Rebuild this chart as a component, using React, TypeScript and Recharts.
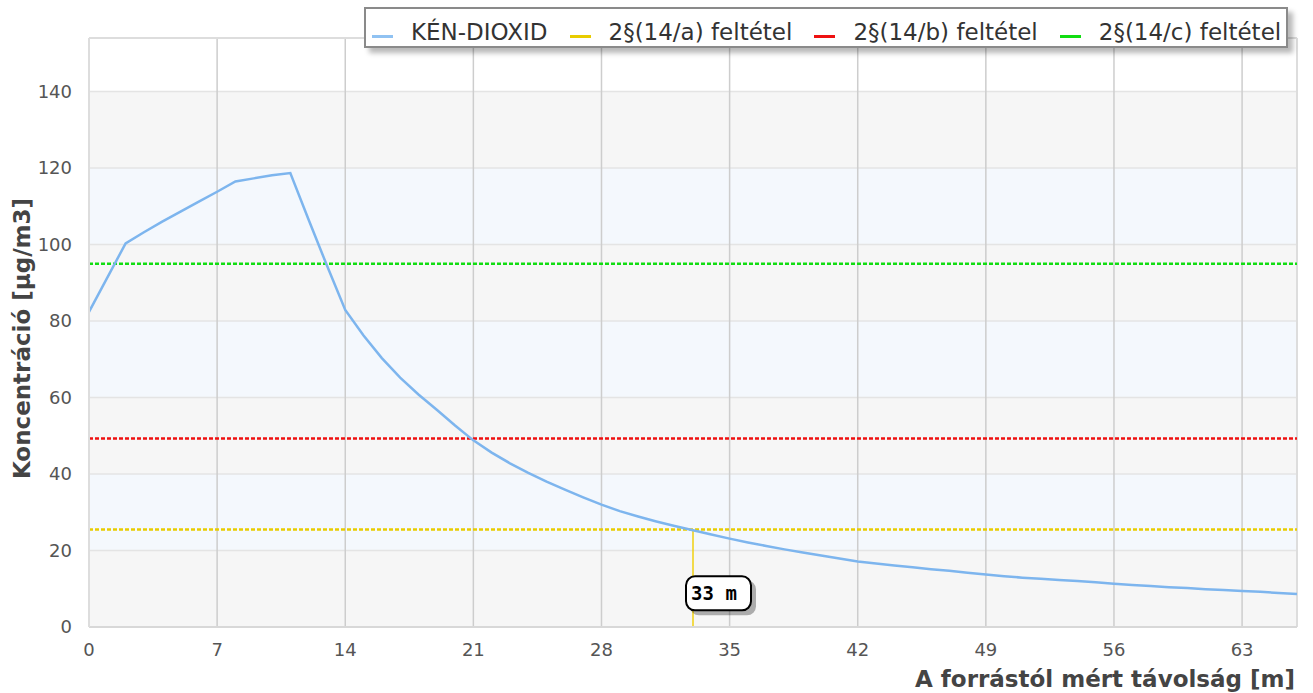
import React from 'react';
import {
  ComposedChart,
  Line,
  XAxis,
  YAxis,
  CartesianGrid,
  ReferenceLine,
  ReferenceDot,
  Legend,
} from 'recharts';

// distance from the source [m]
const distances = [
  0, 2, 3, 4, 5, 6, 7, 8, 9, 10, 11, 12, 13, 14, 15, 16, 17, 18, 19, 20, 21, 22, 23, 24, 25, 26,
  27, 28, 29, 30, 31, 32, 33, 34, 35, 36, 37, 38, 39, 40, 41, 42, 43, 44, 45, 46, 47, 48, 49, 50,
  51, 52, 53, 54, 55, 56, 57, 58, 59, 60, 61, 62, 63, 64, 65, 66,
];
// SO2 concentration [µg/m3]
const so2 = [
  82.4, 100.3, 103.2, 106.0, 108.6, 111.2, 113.8, 116.5, 117.3, 118.1, 118.7, 106.5, 94.5, 82.9,
  76.2, 70.3, 65.2, 60.8, 56.8, 52.7, 48.8, 45.6, 42.8, 40.3, 38.0, 35.9, 33.9, 32.0, 30.3, 28.9,
  27.6, 26.4, 25.3, 24.2, 23.1, 22.1, 21.2, 20.3, 19.5, 18.7, 17.9, 17.1, 16.6, 16.1, 15.6, 15.1,
  14.7, 14.2, 13.7, 13.3, 12.9, 12.6, 12.3, 12.0, 11.7, 11.3, 11.0, 10.7, 10.4, 10.2, 9.9, 9.7,
  9.4, 9.2, 8.9, 8.6,
];

const limitA = 25.5; // 2§(14/a)
const limitB = 49.3; // 2§(14/b)
const limitC = 95; // 2§(14/c)
const crossDistance = 33;
const crossLabel = '33 m';
const crossLabelY = 8.8;

const xTicks = [0, 7, 14, 21, 28, 35, 42, 49, 56, 63];
const yTicks = [0, 20, 40, 60, 80, 100, 120, 140];
const xMax = 66;
const yMax = 154;

const seriesName = 'KÉN-DIOXID';
const legendLabels = ['KÉN-DIOXID', '2§(14/a) feltétel', '2§(14/b) feltétel', '2§(14/c) feltétel'];
const legendColors = ['#90c2f2', '#e8cc00', '#ee1111', '#11dd11'];

const xTitle = 'A forrástól mért távolság [m]';
const yTitle = 'Koncentráció [µg/m3]';

const data = distances.map((d, i) => ({ d, v: so2[i] }));

const FONT = 'DejaVu Sans';

const LegendBox = () => (
  <div
    style={{
      boxSizing: 'border-box',
      width: 924,
      height: 41,
      background: '#fff',
      border: '2px solid #8a8a8a',
      boxShadow: '5px 5px 5px rgba(0,0,0,0.28)',
      display: 'flex',
      alignItems: 'center',
      paddingLeft: 6,
      paddingTop: 8,
      fontFamily: FONT,
      fontSize: 23,
      color: '#333',
      whiteSpace: 'nowrap',
      overflow: 'hidden',
    }}
  >
    {legendLabels.map((label, i) => (
      <div key={label} style={{ display: 'flex', alignItems: 'center', marginRight: 22 }}>
        <span
          style={{
            display: 'inline-block',
            width: 21,
            height: 3,
            background: legendColors[i],
            marginRight: 18,
            marginTop: 10,
          }}
        />
        <span>{label}</span>
      </div>
    ))}
  </div>
);

const CrossBox = (props: any) => {
  const { cx, cy } = props;
  if (cx == null || cy == null) return null;
  return (
    <g>
      <rect x={cx - 3} y={cy - 13} width={66} height={35} rx={9} fill="#000" opacity={0.3} />
      <rect x={cx - 7} y={cy - 17} width={65} height={34} rx={9} fill="#fff" stroke="#000" strokeWidth={2} />
      <text
        x={cx + 21}
        y={cy + 7}
        textAnchor="middle"
        fontFamily="DejaVu Sans Mono"
        fontWeight="bold"
        fontSize={19}
        fill="#000"
      >
        {crossLabel}
      </text>
    </g>
  );
};

const XTitle = (props: any) => {
  const vb = props.viewBox || {};
  return (
    <text
      x={vb.x + vb.width - 2}
      y={vb.y + 60}
      textAnchor="end"
      fontFamily={FONT}
      fontWeight="bold"
      fontSize={23}
      fill="#444"
    >
      {xTitle}
    </text>
  );
};

const YTitle = (props: any) => {
  const vb = props.viewBox || {};
  const x = vb.x + 30;
  const y = vb.y + vb.height / 2 + 6;
  return (
    <text
      x={x}
      y={y}
      transform={`rotate(-90, ${x}, ${y})`}
      textAnchor="middle"
      fontFamily={FONT}
      fontWeight="bold"
      fontSize={23}
      fill="#444"
    >
      {yTitle}
    </text>
  );
};

export default function App() {
  return (
    <div style={{ position: 'absolute', left: 0, top: 0, width: 1313, height: 693, background: '#fff' }}>
      <ComposedChart
        width={1313}
        height={693}
        data={data}
        margin={{ top: 38, right: 16, bottom: 0, left: 0 }}
      >
        <CartesianGrid
          vertical={false}
          stroke="#e4e4e4"
          strokeWidth={1.5}
          horizontalFill={['#ffffff', '#f6f6f6', '#f4f8fd', '#f6f6f6', '#f4f8fd', '#f6f6f6', '#f4f8fd', '#f6f6f6']}
          fillOpacity={1}
        />
        <CartesianGrid horizontal={false} stroke="#cdcdcd" strokeWidth={1.5} />
        <XAxis
          dataKey="d"
          type="number"
          domain={[0, xMax]}
          ticks={xTicks}
          interval={0}
          tickLine={false}
          tickSize={8}
          tickMargin={8}
          axisLine={{ stroke: '#d8d8d8', strokeWidth: 2 }}
          tick={{ fontFamily: FONT, fontSize: 18, fill: '#555' }}
          height={66}
          label={<XTitle />}
        />
        <YAxis
          type="number"
          domain={[0, yMax]}
          ticks={yTicks}
          interval={0}
          tickLine={false}
          tickSize={8}
          tickMargin={9}
          axisLine={{ stroke: '#dddddd', strokeWidth: 2 }}
          tick={{ fontFamily: FONT, fontSize: 18, fill: '#555' }}
          width={89}
          label={<YTitle />}
        />
        <ReferenceLine y={yMax} stroke="#dddddd" strokeWidth={2} />
        <ReferenceLine x={xMax} stroke="#dddddd" strokeWidth={2} />
        <ReferenceLine y={limitC} stroke={legendColors[3]} strokeWidth={2.5} strokeDasharray="4 2" />
        <ReferenceLine y={limitB} stroke={legendColors[2]} strokeWidth={2.5} strokeDasharray="4 2" />
        <ReferenceLine y={limitA} stroke={legendColors[1]} strokeWidth={2.5} strokeDasharray="4 2" />
        <ReferenceLine
          segment={[
            { x: crossDistance, y: 0 },
            { x: crossDistance, y: limitA },
          ]}
          stroke="#f0d010"
          strokeWidth={1.5}
        />
        <Line
          name={seriesName}
          type="linear"
          dataKey="v"
          stroke="#7db5ee"
          strokeWidth={2.5}
          dot={false}
          isAnimationActive={false}
        />
        <ReferenceDot x={crossDistance} y={crossLabelY} r={0} shape={<CrossBox />} />
        <Legend
          layout="horizontal"
          verticalAlign="middle"
          align="center"
          content={<LegendBox />}
          wrapperStyle={{ left: 364, top: 7, width: 924, height: 41 }}
        />
      </ComposedChart>
    </div>
  );
}
